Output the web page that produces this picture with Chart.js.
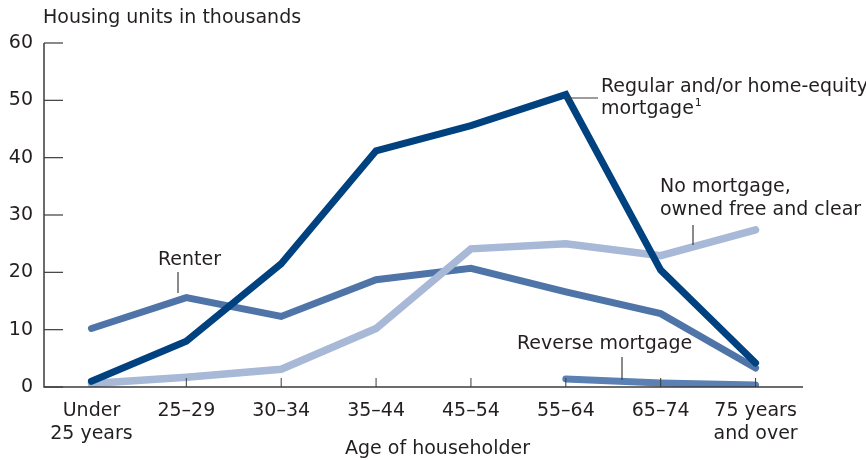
<!DOCTYPE html>
<html><head><meta charset="utf-8">
<script src="https://cdn.jsdelivr.net/npm/chart.js@4"></script>
<style>html,body{margin:0;padding:0;background:#fff}#wrap{width:866px;height:460px;position:relative}</style>
</head><body><div id="wrap"><canvas id="c" width="866" height="460" style="width:866px;height:460px"></canvas></div>
<script>
const categories = [["Under", "25 years"], "25–29", "30–34", "35–44", "45–54", "55–64", "65–74", ["75 years", "and over"]];
const regularMortgage = [1.0, 8.0, 21.5, 41.2, 45.6, 51.0, 20.4, 4.2];
const renter = [10.2, 15.6, 12.3, 18.7, 20.7, 16.6, 12.8, 3.3];
const noMortgage = [0.6, 1.7, 3.1, 10.2, 24.1, 25.0, 22.9, 27.4];
const reverseMortgage = [null, null, null, null, null, 1.4, 0.7, 0.35];
const yTickValues = [0, 10, 20, 30, 40, 50, 60];

const FONT = '"DejaVu Sans", sans-serif';
const FS = 19;
const TXT = '#231f20';
const AXIS = '#3c3c3c';

const decor = {
  id: 'decor',
  afterDatasetsDraw(chart) {
    const ctx = chart.ctx, x = chart.scales.x, y = chart.scales.y, a = chart.chartArea;
    ctx.save();
    ctx.strokeStyle = AXIS;
    ctx.lineWidth = 1.5;
    ctx.beginPath();
    ctx.moveTo(a.left, y.getPixelForValue(60));
    ctx.lineTo(a.left, a.bottom);
    ctx.lineTo(a.right, a.bottom);
    ctx.stroke();
    ctx.lineWidth = 1.2;
    yTickValues.forEach(v => {
      const py = y.getPixelForValue(v);
      ctx.beginPath(); ctx.moveTo(a.left, py); ctx.lineTo(a.left + 19, py); ctx.stroke();
    });
    ctx.lineWidth = 1;
    for (let i = 1; i < categories.length; i++) {
      const px = x.getPixelForValue(i);
      ctx.beginPath(); ctx.moveTo(px, a.bottom); ctx.lineTo(px, a.bottom - 9); ctx.stroke();
    }
    ctx.fillStyle = TXT;
    ctx.font = FS + 'px ' + FONT;
    ctx.textBaseline = 'middle';
    ctx.textAlign = 'left';
    ctx.fillText('Housing units in thousands', 43, 18);
    const p5 = x.getPixelForValue(5);
    ctx.fillText('Regular and/or home-equity', 601, 87);
    ctx.fillText('mortgage', 601, 109);
    const mw = ctx.measureText('mortgage').width;
    ctx.font = '11px ' + FONT;
    ctx.fillText('1', 601 + mw + 1, 103);
    ctx.font = FS + 'px ' + FONT;
    ctx.lineWidth = 1.2;
    ctx.beginPath(); ctx.moveTo(p5 - 1, 98); ctx.lineTo(598, 98); ctx.stroke();
    ctx.fillText('No mortgage,', 660, 187);
    ctx.fillText('owned free and clear', 660, 210);
    ctx.beginPath(); ctx.moveTo(693, 225); ctx.lineTo(693, 245); ctx.stroke();
    ctx.fillText('Renter', 158, 260);
    ctx.beginPath(); ctx.moveTo(178, 272); ctx.lineTo(178, 293); ctx.stroke();
    ctx.fillText('Reverse mortgage', 517, 344);
    ctx.beginPath(); ctx.moveTo(622, 357); ctx.lineTo(622, 380); ctx.stroke();
    ctx.textAlign = 'center';
    ctx.fillText('Age of householder', (a.left + a.right) / 2 + 14, 449);
    ctx.restore();
  }
};

const base = { fill: false, tension: 0, pointRadius: 0, borderCapStyle: 'round', borderJoinStyle: 'miter', spanGaps: false };

new Chart(document.getElementById('c'), {
  type: 'line',
  data: {
    labels: categories,
    datasets: [
      Object.assign({ label: 'Regular and/or home-equity mortgage', data: regularMortgage, borderColor: '#00427f', borderWidth: 7, order: 0 }, base),
      Object.assign({ label: 'No mortgage, owned free and clear', data: noMortgage, borderColor: '#a8b8d7', borderWidth: 7.5, order: 1 }, base),
      Object.assign({ label: 'Renter', data: renter, borderColor: '#4f74a7', borderWidth: 7, order: 2 }, base),
      Object.assign({ label: 'Reverse mortgage', data: reverseMortgage, borderColor: '#5b80b3', borderWidth: 7, order: 3 }, base)
    ]
  },
  options: {
    responsive: false,
    animation: false,
    devicePixelRatio: 1,
    layout: { padding: { left: 0, right: 63, top: 43, bottom: 0 } },
    plugins: { legend: { display: false }, tooltip: { enabled: false }, title: { display: false } },
    scales: {
      x: {
        offset: true,
        grid: { display: false, drawTicks: false },
        border: { display: false },
        ticks: { color: TXT, font: { family: FONT, size: FS, lineHeight: 1.2 }, padding: 13, maxRotation: 0, autoSkip: false },
        afterFit(s) { s.height = 73; }
      },
      y: {
        min: 0, max: 60,
        grid: { display: false, drawTicks: false },
        border: { display: false },
        ticks: { stepSize: 10, color: TXT, font: { family: FONT, size: FS }, padding: 11 },
        afterFit(s) { s.width = 44; }
      }
    }
  },
  plugins: [decor]
});
</script>
</body></html>
